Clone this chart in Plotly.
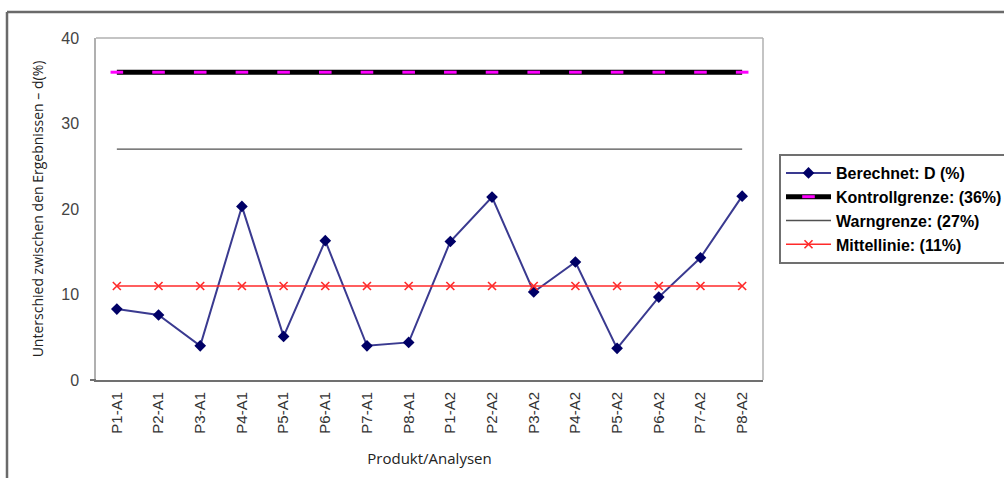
import plotly.graph_objects as go

# Categories (product / analysis run)
categories = ["P1-A1", "P2-A1", "P3-A1", "P4-A1", "P5-A1", "P6-A1", "P7-A1", "P8-A1",
              "P1-A2", "P2-A2", "P3-A2", "P4-A2", "P5-A2", "P6-A2", "P7-A2", "P8-A2"]

# Calculated difference D (%)
berechnet = [8.3, 7.6, 4.0, 20.3, 5.1, 16.3, 4.0, 4.4,
             16.2, 21.4, 10.3, 13.8, 3.7, 9.7, 14.3, 21.5]

# Limit lines
kontrollgrenze = [36] * len(categories)
warngrenze = [27] * len(categories)
mittellinie = [11] * len(categories)

y_ticks = [0, 10, 20, 30, 40]

fig = go.Figure()

fig.add_trace(go.Scatter(
    x=categories, y=berechnet, name="Berechnet: D (%)",
    mode="lines+markers",
    line=dict(color="#3a3a90", width=2),
    marker=dict(symbol="diamond", size=9, color="#000066"),
))
fig.add_trace(go.Scatter(
    x=categories, y=kontrollgrenze, name="Kontrollgrenze: (36%)",
    mode="lines+markers",
    line=dict(color="#000000", width=5),
    marker=dict(symbol="line-ew", size=9, color="#ff00ff",
                line=dict(color="#ff00ff", width=3)),
))
fig.add_trace(go.Scatter(
    x=categories, y=warngrenze, name="Warngrenze: (27%)",
    mode="lines",
    line=dict(color="#505050", width=1.3),
))
fig.add_trace(go.Scatter(
    x=categories, y=mittellinie, name="Mittellinie: (11%)",
    mode="lines+markers",
    line=dict(color="#ff2a2a", width=1.5),
    marker=dict(symbol="x-thin", size=8, color="#ff2a2a",
                line=dict(color="#ff2a2a", width=1.6)),
))

L, R, T, B = 96, 241, 38, 98
W, H = 1004, 478
pw, ph = W - L - R, H - T - B

def px_x(x):
    return (x - L) / pw

def px_y(y):
    return (H - B - y) / ph

shapes = [
    # outer frame (top and left edges)
    dict(type="line", xref="paper", yref="paper",
         x0=px_x(7), x1=px_x(1010), y0=px_y(12), y1=px_y(12),
         line=dict(color="#6a6a6a", width=2.5)),
    dict(type="line", xref="paper", yref="paper",
         x0=px_x(7), x1=px_x(7), y0=px_y(12), y1=px_y(485),
         line=dict(color="#6a6a6a", width=2.5)),
    # plot area frame (top and right)
    dict(type="line", xref="paper", yref="paper",
         x0=0, x1=1, y0=1, y1=1, line=dict(color="#b0b0b0", width=1.5)),
    dict(type="line", xref="paper", yref="paper",
         x0=1, x1=1, y0=0, y1=1, line=dict(color="#b0b0b0", width=1.5)),
    # short tick left of the origin
    dict(type="line", xref="paper", yref="paper",
         x0=px_x(90), x1=0, y0=0, y1=0, line=dict(color="#707070", width=2)),
]

fig.update_layout(
    width=W, height=H,
    margin=dict(l=L, r=R, t=T, b=B, autoexpand=False),
    paper_bgcolor="white", plot_bgcolor="white",
    shapes=shapes,
    showlegend=True,
    legend=dict(
        xref="container", yref="container",
        x=779 / W, y=(H - 154) / H, xanchor="left", yanchor="top",
        bordercolor="#707070", borderwidth=2, bgcolor="white",
        font=dict(family="Liberation Sans, Arial", size=16, color="#000000",
                  weight="bold"),
        itemwidth=45, tracegroupgap=0,
    ),
    xaxis=dict(
        type="category", range=[-0.5, len(categories) - 0.5],
        tickangle=-90, showgrid=False, zeroline=False,
        showline=True, linecolor="#707070", linewidth=2,
        ticks="", ticklabelstandoff=4, automargin=False,
        tickfont=dict(family="Liberation Sans, Arial", size=15, color="#333333"),
        title=dict(text="Produkt/Analysen", standoff=21,
                   font=dict(family="Open Sans, Noto Sans", size=15, color="#222222")),
    ),
    yaxis=dict(
        range=[0, 40], tickvals=y_ticks, showgrid=False, zeroline=False,
        showline=True, linecolor="#b0b0b0", linewidth=1.5,
        ticks="", ticklabelstandoff=12, automargin=False,
        tickfont=dict(family="Liberation Sans, Arial", size=16, color="#444444"),
        title=dict(text="Unterschied zwischen den Ergebnissen – d(%)", standoff=14,
                   font=dict(family="Open Sans, Noto Sans", size=14, color="#222222")),
    ),
)

fig.write_html("out.html")
